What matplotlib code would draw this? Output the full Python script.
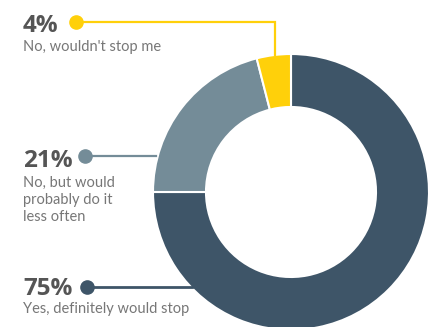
import matplotlib
matplotlib.use("Agg")
import matplotlib.pyplot as plt

# ---- data ----
shares = [75, 21, 4]
pct_labels = ["75%", "21%", "4%"]
descriptions = [["Yes, definitely would stop"],
                ["No, but would", "probably do it", "less often"],
                ["No, wouldn't stop me"]]
colors = ["#3e5568", "#748c98", "#ffd00a"]

W, H = 436, 327
fig = plt.figure(figsize=(W / 100, H / 100), dpi=100)
ax = fig.add_axes([0, 0, 1, 1])

# donut, drawn in pixel-like coordinates
cx, cy, r = 291, 192, 138
ax.pie(shares, colors=colors, startangle=90, counterclock=False,
       center=(cx, -cy), radius=r,
       wedgeprops=dict(width=53, edgecolor="white", linewidth=1.5))

ax.set_xlim(0, W)
ax.set_ylim(-H, 0)
ax.set_aspect("equal")
ax.axis("off")

pct_color = "#555555"
txt_color = "#777777"
font = ["Lato", "DejaVu Sans"]

# leader lines
# 4%
ax.plot([76, 275, 275], [-21.7, -21.7, -55], color=colors[2], lw=1.6,
        solid_joinstyle="miter", zorder=3)
ax.plot(76, -21.7, "o", color=colors[2], ms=9.5, zorder=4)
# 21%
ax.plot([85, 156], [-156, -156], color=colors[1], lw=1.6, zorder=3)
ax.plot(85, -156, "o", color=colors[1], ms=9.5, zorder=4)
# 75%
ax.plot([87, 192], [-287, -287], color=colors[0], lw=2.0, zorder=3)
ax.plot(87, -287, "o", color=colors[0], ms=9.5, zorder=4)

# texts
pct_y = [295, 167, 31.5]
desc_y = [313, 186.5, 51.5]
for p, lines, py, dy in zip(pct_labels, descriptions, pct_y, desc_y):
    ax.text(23, -py, p, fontsize=17.5, fontweight="bold", color=pct_color,
            family=["Open Sans", "DejaVu Sans"], va="baseline", ha="left")
    for k, line in enumerate(lines):
        ax.text(23, -(dy + 17.3 * k), line, fontsize=10.5, color=txt_color,
                family=font, va="baseline", ha="left")

fig.savefig("out.png", dpi=100)
